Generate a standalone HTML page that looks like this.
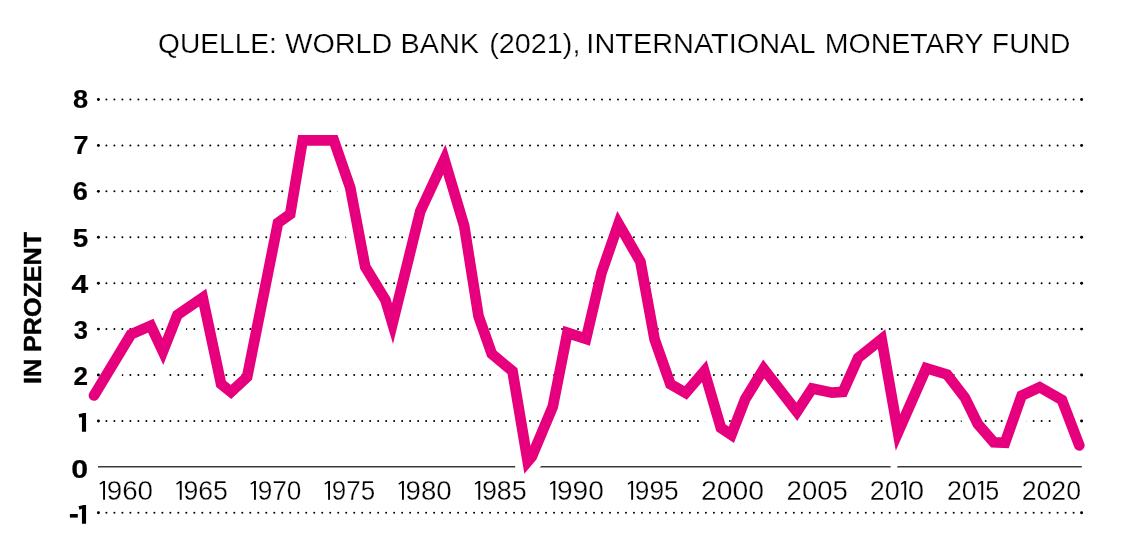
<!DOCTYPE html>
<html><head><meta charset="utf-8"><title>Chart</title>
<style>
html,body{margin:0;padding:0;background:#fff;}
body{width:1123px;height:549px;overflow:hidden;font-family:"Liberation Sans",sans-serif;}
svg{display:block;will-change:transform;}
text{font-family:"Liberation Sans",sans-serif;fill:#000;}
.title{font-size:26.8px;stroke:#fff;stroke-width:0.22px;}
.yl{font-size:26.0px;font-weight:bold;stroke:#000;stroke-width:0.2px;}
.xl{font-size:27.0px;stroke:#fff;stroke-width:0.3px;}
.side{font-size:24px;font-weight:bold;stroke:#000;stroke-width:0.4px;}
</style></head>
<body>
<svg width="1123" height="549" viewBox="0 0 1123 549">
<rect width="1123" height="549" fill="#fff"/>
<text x="158.14" y="52.8" textLength="118.7" lengthAdjust="spacingAndGlyphs" class="title">QUELLE:</text>
<text x="285.39" y="52.8" textLength="106.9" lengthAdjust="spacingAndGlyphs" class="title">WORLD</text>
<text x="400.45" y="52.8" textLength="78.6" lengthAdjust="spacingAndGlyphs" class="title">BANK</text>
<text x="489.3" y="52.8" textLength="91.1" lengthAdjust="spacingAndGlyphs" class="title">(2021),</text>
<text x="586.36" y="52.8" textLength="229.1" lengthAdjust="spacingAndGlyphs" class="title">INTERNATIONAL</text>
<text x="824.74" y="52.8" textLength="158.9" lengthAdjust="spacingAndGlyphs" class="title">MONETARY</text>
<text x="991.89" y="52.8" textLength="78.6" lengthAdjust="spacingAndGlyphs" class="title">FUND</text>
<path d="M98.4,99.5 H1081.61" stroke="#000" stroke-width="2.0" stroke-linecap="round" stroke-dasharray="0 7.9935" fill="none"/>
<circle cx="98.4" cy="99.5" r="1.45" fill="#000"/><circle cx="1081.6" cy="99.5" r="1.45" fill="#000"/>
<path d="M98.4,145.42 H1081.61" stroke="#000" stroke-width="2.0" stroke-linecap="round" stroke-dasharray="0 7.9935" fill="none"/>
<circle cx="98.4" cy="145.42" r="1.45" fill="#000"/><circle cx="1081.6" cy="145.42" r="1.45" fill="#000"/>
<path d="M98.4,191.34 H1081.61" stroke="#000" stroke-width="2.0" stroke-linecap="round" stroke-dasharray="0 7.9935" fill="none"/>
<circle cx="98.4" cy="191.34" r="1.45" fill="#000"/><circle cx="1081.6" cy="191.34" r="1.45" fill="#000"/>
<path d="M98.4,237.26 H1081.61" stroke="#000" stroke-width="2.0" stroke-linecap="round" stroke-dasharray="0 7.9935" fill="none"/>
<circle cx="98.4" cy="237.26" r="1.45" fill="#000"/><circle cx="1081.6" cy="237.26" r="1.45" fill="#000"/>
<path d="M98.4,283.18 H1081.61" stroke="#000" stroke-width="2.0" stroke-linecap="round" stroke-dasharray="0 7.9935" fill="none"/>
<circle cx="98.4" cy="283.18" r="1.45" fill="#000"/><circle cx="1081.6" cy="283.18" r="1.45" fill="#000"/>
<path d="M98.4,329.1 H1081.61" stroke="#000" stroke-width="2.0" stroke-linecap="round" stroke-dasharray="0 7.9935" fill="none"/>
<circle cx="98.4" cy="329.1" r="1.45" fill="#000"/><circle cx="1081.6" cy="329.1" r="1.45" fill="#000"/>
<path d="M98.4,375.02 H1081.61" stroke="#000" stroke-width="2.0" stroke-linecap="round" stroke-dasharray="0 7.9935" fill="none"/>
<circle cx="98.4" cy="375.02" r="1.45" fill="#000"/><circle cx="1081.6" cy="375.02" r="1.45" fill="#000"/>
<path d="M98.4,420.94 H1081.61" stroke="#000" stroke-width="2.0" stroke-linecap="round" stroke-dasharray="0 7.9935" fill="none"/>
<circle cx="98.4" cy="420.94" r="1.45" fill="#000"/><circle cx="1081.6" cy="420.94" r="1.45" fill="#000"/>
<path d="M98.4,512.78 H1081.61" stroke="#000" stroke-width="2.0" stroke-linecap="round" stroke-dasharray="0 7.9935" fill="none"/>
<circle cx="98.4" cy="512.78" r="1.45" fill="#000"/><circle cx="1081.6" cy="512.78" r="1.45" fill="#000"/>
<path d="M98.0,466.8 H1081.8" stroke="#3a3a3a" stroke-width="1.4" fill="none"/>
<clipPath id="below"><path d="M94.0,395.5 L130.9,334.4 L150.8,325.7 L162.9,351.6 L177.4,314.9 L202.7,297.6 L221.1,384.0 L231.0,391.9 L247.1,377.1 L278.0,222.8 L290.2,214.1 L302.6,140.3 L333.8,140.3 L350.2,187.6 L365.2,266.8 L385.4,300.0 L392.5,323.7 L420.3,211.3 L444.4,159.6 L464.2,225.9 L478.5,316.1 L491.8,353.9 L512.5,371.2 L527.7,461.5 L531.8,456.6 L552.8,406.7 L567.4,332.8 L586.0,338.9 L601.6,272.4 L618.5,223.7 L640.4,261.7 L654.6,339.3 L670.4,384.0 L685.7,392.9 L704.3,371.2 L720.9,427.8 L731.4,434.8 L745.2,399.1 L763.7,368.9 L796.9,411.8 L812.2,388.4 L832.1,392.7 L842.9,391.9 L858.2,357.8 L881.6,339.1 L898.0,432.5 L926.3,368.2 L947.1,374.5 L964.8,397.5 L977.8,423.9 L993.7,442.3 L1005.0,442.8 L1021.6,395.6 L1039.7,387.2 L1061.9,399.9 L1079.3,445.4 L1099.3,445.4 V600 H74.0 V395.5 Z"/></clipPath>
<path d="M94.0,395.5 L130.9,334.4 L150.8,325.7 L162.9,351.6 L177.4,314.9 L202.7,297.6 L221.1,384.0 L231.0,391.9 L247.1,377.1 L278.0,222.8 L290.2,214.1 L302.6,140.3 L333.8,140.3 L350.2,187.6 L365.2,266.8 L385.4,300.0 L392.5,323.7 L420.3,211.3 L444.4,159.6 L464.2,225.9 L478.5,316.1 L491.8,353.9 L512.5,371.2 L527.7,461.5 L531.8,456.6 L552.8,406.7 L567.4,332.8 L586.0,338.9 L601.6,272.4 L618.5,223.7 L640.4,261.7 L654.6,339.3 L670.4,384.0 L685.7,392.9 L704.3,371.2 L720.9,427.8 L731.4,434.8 L745.2,399.1 L763.7,368.9 L796.9,411.8 L812.2,388.4 L832.1,392.7 L842.9,391.9 L858.2,357.8 L881.6,339.1 L898.0,432.5 L926.3,368.2 L947.1,374.5 L964.8,397.5 L977.8,423.9 L993.7,442.3 L1005.0,442.8 L1021.6,395.6 L1039.7,387.2 L1061.9,399.9 L1079.3,445.4" fill="none" stroke="#fff" stroke-width="26.5" stroke-linejoin="miter" stroke-miterlimit="4" stroke-linecap="butt" clip-path="url(#below)"/>
<path d="M94.0,395.5 L130.9,334.4 L150.8,325.7 L162.9,351.6 L177.4,314.9 L202.7,297.6 L221.1,384.0 L231.0,391.9 L247.1,377.1 L278.0,222.8 L290.2,214.1 L302.6,140.3 L333.8,140.3 L350.2,187.6 L365.2,266.8 L385.4,300.0 L392.5,323.7 L420.3,211.3 L444.4,159.6 L464.2,225.9 L478.5,316.1 L491.8,353.9 L512.5,371.2 L527.7,461.5 L531.8,456.6 L552.8,406.7 L567.4,332.8 L586.0,338.9 L601.6,272.4 L618.5,223.7 L640.4,261.7 L654.6,339.3 L670.4,384.0 L685.7,392.9 L704.3,371.2 L720.9,427.8 L731.4,434.8 L745.2,399.1 L763.7,368.9 L796.9,411.8 L812.2,388.4 L832.1,392.7 L842.9,391.9 L858.2,357.8 L881.6,339.1 L898.0,432.5 L926.3,368.2 L947.1,374.5 L964.8,397.5 L977.8,423.9 L993.7,442.3 L1005.0,442.8 L1021.6,395.6 L1039.7,387.2 L1061.9,399.9 L1079.3,445.4" fill="none" stroke="#e6007e" stroke-width="10.7" stroke-linejoin="miter" stroke-miterlimit="10" stroke-linecap="round"/>
<path d="M105.00,481.10 V499.70 H103.10 V483.00 L100.00,484.80 L99.50,483.40 L103.10,481.10 Z" fill="#000"/>
<text x="106.70" y="499.7" textLength="46.39" lengthAdjust="spacingAndGlyphs" class="xl">960</text>
<path d="M181.70,481.10 V499.70 H179.80 V483.00 L176.70,484.80 L176.20,483.40 L179.80,481.10 Z" fill="#000"/>
<text x="183.45" y="499.7" textLength="44.47" lengthAdjust="spacingAndGlyphs" class="xl">965</text>
<path d="M255.90,481.10 V499.70 H254.00 V483.00 L250.90,484.80 L250.40,483.40 L254.00,481.10 Z" fill="#000"/>
<text x="257.67" y="499.7" textLength="43.75" lengthAdjust="spacingAndGlyphs" class="xl">970</text>
<path d="M330.00,481.10 V499.70 H328.10 V483.00 L325.00,484.80 L324.50,483.40 L328.10,481.10 Z" fill="#000"/>
<text x="331.78" y="499.7" textLength="43.31" lengthAdjust="spacingAndGlyphs" class="xl">975</text>
<path d="M403.90,481.10 V499.70 H402.00 V483.00 L398.90,484.80 L398.40,483.40 L402.00,481.10 Z" fill="#000"/>
<text x="405.61" y="499.7" textLength="46.07" lengthAdjust="spacingAndGlyphs" class="xl">980</text>
<path d="M480.20,481.10 V499.70 H478.30 V483.00 L475.20,484.80 L474.70,483.40 L478.30,481.10 Z" fill="#000"/>
<text x="481.94" y="499.7" textLength="44.79" lengthAdjust="spacingAndGlyphs" class="xl">985</text>
<path d="M555.30,481.10 V499.70 H553.40 V483.00 L550.30,484.80 L549.80,483.40 L553.40,481.10 Z" fill="#000"/>
<text x="556.98" y="499.7" textLength="46.92" lengthAdjust="spacingAndGlyphs" class="xl">990</text>
<path d="M633.10,481.10 V499.70 H631.20 V483.00 L628.10,484.80 L627.60,483.40 L631.20,481.10 Z" fill="#000"/>
<text x="634.87" y="499.7" textLength="43.83" lengthAdjust="spacingAndGlyphs" class="xl">995</text>
<text x="701.08" y="499.7" textLength="63.03" lengthAdjust="spacingAndGlyphs" class="xl">2000</text>
<text x="786.62" y="499.7" textLength="61.24" lengthAdjust="spacingAndGlyphs" class="xl">2005</text>
<text x="1021.66" y="499.7" textLength="59.39" lengthAdjust="spacingAndGlyphs" class="xl">2020</text>
<text x="869.85" y="499.7" textLength="29.90" lengthAdjust="spacingAndGlyphs" class="xl">20</text>
<path d="M906.20,481.10 V499.70 H904.30 V483.00 L901.20,484.80 L900.70,483.40 L904.30,481.10 Z" fill="#000"/>
<text x="907.85" y="499.7" textLength="16.40" lengthAdjust="spacingAndGlyphs" class="xl">0</text>
<text x="946.95" y="499.7" textLength="29.79" lengthAdjust="spacingAndGlyphs" class="xl">20</text>
<path d="M983.20,481.10 V499.70 H981.30 V483.00 L978.20,484.80 L977.70,483.40 L981.30,481.10 Z" fill="#000"/>
<text x="985.30" y="499.7" textLength="13.96" lengthAdjust="spacingAndGlyphs" class="xl">5</text>
<text x="73.00" y="107.5" textLength="15.10" lengthAdjust="spacingAndGlyphs" class="yl">8</text>
<text x="73.40" y="153.8" textLength="15.00" lengthAdjust="spacingAndGlyphs" class="yl">7</text>
<text x="72.80" y="200.2" textLength="15.10" lengthAdjust="spacingAndGlyphs" class="yl">6</text>
<text x="72.70" y="246.6" textLength="15.50" lengthAdjust="spacingAndGlyphs" class="yl">5</text>
<text x="71.50" y="292.6" textLength="16.70" lengthAdjust="spacingAndGlyphs" class="yl">4</text>
<text x="73.70" y="338.6" textLength="14.20" lengthAdjust="spacingAndGlyphs" class="yl">3</text>
<text x="73.50" y="384.6" textLength="14.50" lengthAdjust="spacingAndGlyphs" class="yl">2</text>
<text x="71.20" y="477.7" textLength="16.90" lengthAdjust="spacingAndGlyphs" class="yl">0</text>
<path d="M86.05,413.00 L86.05,431.7 L81.95,431.7 L81.95,416.90 L79.40,417.80 L78.55,414.30 L83.60,413.00 Z" fill="#000"/>
<path d="M86.05,504.95 L86.05,523.65 L81.95,523.65 L81.95,508.85 L79.40,509.75 L78.55,506.25 L83.60,504.95 Z" fill="#000"/>
<rect x="69.9" y="514.0" width="7.9" height="3.6" fill="#000"/>
<text transform="translate(41,384) rotate(-90)" textLength="152" lengthAdjust="spacingAndGlyphs" class="side">IN PROZENT</text>
</svg>
</body></html>
